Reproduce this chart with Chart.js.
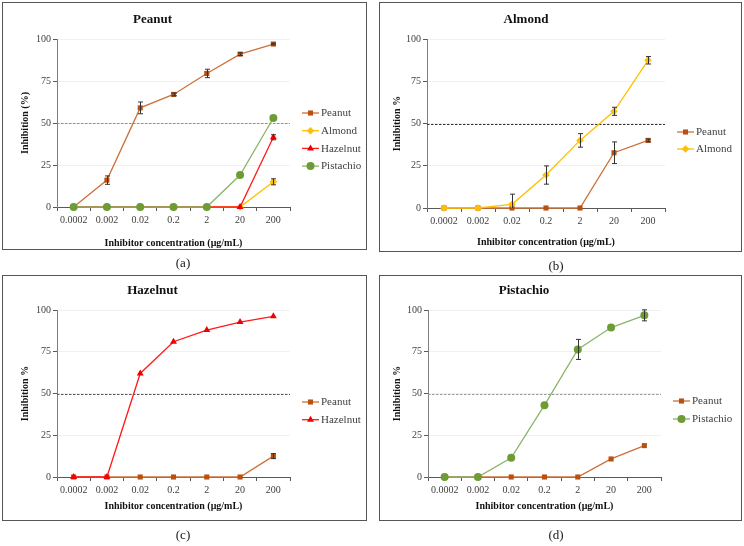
<!DOCTYPE html>
<html>
<head>
<meta charset="utf-8">
<script src="https://cdn.jsdelivr.net/npm/chart.js@4.4.0/dist/chart.umd.min.js"></script>
<style>
    body { margin: 0; background: #fff; }
    #page { position: relative; width: 744px; height: 546px; font-family: 'Liberation Serif', serif; }
    .panel { position: absolute; border: 1px solid #555; background: #fff; }
    .panel canvas { display: block; }
    .tag { position: absolute; width: 60px; text-align: center; font-size: 13px; color: #1a1a1a; will-change: transform; }
</style>
</head>
<body>
<div id="page">
    <div class="panel" style="left:2px; top:2px;"><canvas id="chartA" width="363" height="246"></canvas></div>
    <div class="panel" style="left:379px; top:2px;"><canvas id="chartB" width="361" height="248"></canvas></div>
    <div class="panel" style="left:2px; top:275px;"><canvas id="chartC" width="363" height="244"></canvas></div>
    <div class="panel" style="left:379px; top:275px;"><canvas id="chartD" width="361" height="244"></canvas></div>
    <div class="tag" style="left:153px; top:255px;">(a)</div>
    <div class="tag" style="left:526px; top:258px;">(b)</div>
    <div class="tag" style="left:153px; top:527px;">(c)</div>
    <div class="tag" style="left:526px; top:527px;">(d)</div>
</div>
<script>
// концентрации ингибитора (ось X)
const concLabels = ['0.0002', '0.002', '0.02', '0.2', '2', '20', '200'];
const yMin = 0;
const yMax = 100;
const yStep = 25;
const threshold = 50;

// (a) Peanut
const aPeanut = [0, 16, 59, 67, 79.5, 91, 97];
const aPeanutErr = [0, 2.5, 3.5, 0.8, 2.5, 0.8, 0.5];
const aAlmond = [0, 0, 0, 0, 0, 0, 15];
const aAlmondErr = [0, 0, 0, 0, 0, 0, 1.8];
const aHazelnut = [0, 0, 0, 0, 0, 0, 41.5];
const aHazelnutErr = [0, 0, 0, 0, 0, 0, 1.5];
const aPistachio = [0, 0, 0, 0, 0, 19, 53];

// (b) Almond
const bPeanut = [0, 0, 0, 0, 0, 32.7, 40];
const bPeanutErr = [0, 0, 0, 0, 0, 6.4, 0.8];
const bAlmond = [0, 0, 2.2, 19.5, 40, 57.2, 87.4];
const bAlmondErr = [0, 0, 6, 5.4, 4, 2.4, 2.2];

// (c) Hazelnut
const cPeanut = [0, 0, 0, 0, 0, 0, 12.5];
const cPeanutErr = [0, 0, 0, 0, 0, 0, 1.5];
const cHazelnut = [0, 0, 62, 81, 88, 92.8, 96.2];

// (d) Pistachio
const dPeanut = [0, 0, 0, 0, 0, 10.8, 18.8];
const dPistachio = [0, 0, 11.5, 43, 76.4, 89.5, 96.8];
const dPistachioErr = [0, 0, 0, 0, 6, 0, 3.3];

const fontFamily = "'Liberation Serif', serif";

// стиль серий
const seriesStyle = {
    Peanut: { line: '#CD7138', point: '#B9500F', shape: 'rect', r: 3.6 },
    Almond: { line: '#FFC000', point: '#FFBF00', shape: 'rectRot', r: 3.8 },
    Hazelnut: { line: '#FF1A1A', point: '#F00000', shape: 'triangle', r: 4 },
    Pistachio: { line: '#8CB469', point: '#6C9C33', shape: 'circle', r: 4 }
};

// рисуем маркер для легенды
function drawMarker(ctx, shape, x, y, r, color) {
    ctx.fillStyle = color;
    ctx.beginPath();
    if (shape === 'rect') {
        const s = r * Math.SQRT1_2;
        ctx.rect(x - s, y - s, 2 * s, 2 * s);
    } else if (shape === 'rectRot') {
        ctx.moveTo(x, y - r); ctx.lineTo(x + r, y); ctx.lineTo(x, y + r); ctx.lineTo(x - r, y);
        ctx.closePath();
    } else if (shape === 'triangle') {
        ctx.moveTo(x, y - r); ctx.lineTo(x + r * 0.87, y + r * 0.5); ctx.lineTo(x - r * 0.87, y + r * 0.5);
        ctx.closePath();
    } else {
        ctx.arc(x, y, r, 0, Math.PI * 2);
    }
    ctx.fill();
}

// пунктирная линия 50%
const refLine = {
    id: 'refLine',
    beforeDatasetsDraw(chart, args, opts) {
        const ctx = chart.ctx;
        const area = chart.chartArea;
        const y = Math.round(chart.scales.y.getPixelForValue(opts.value)) + 0.5;
        ctx.save();
        ctx.strokeStyle = opts.color;
        ctx.lineWidth = 1;
        ctx.setLineDash([2.5, 1.5]);
        ctx.beginPath();
        ctx.moveTo(area.left, y);
        ctx.lineTo(area.right, y);
        ctx.stroke();
        ctx.restore();
    }
};

// планки погрешностей
const errorBars = {
    id: 'errorBars',
    afterDatasetsDraw(chart) {
        const ctx = chart.ctx;
        const area = chart.chartArea;
        const yScale = chart.scales.y;
        ctx.save();
        ctx.beginPath();
        ctx.rect(area.left, area.top - 6, area.width, area.height + 6);
        ctx.clip();
        ctx.strokeStyle = '#333';
        ctx.lineWidth = 1;
        chart.data.datasets.forEach(function (ds, i) {
            if (!ds.errors) return;
            const meta = chart.getDatasetMeta(i);
            meta.data.forEach(function (pt, j) {
                const e = ds.errors[j];
                if (!e) return;
                const x = Math.round(pt.x) + 0.5;
                const top = yScale.getPixelForValue(ds.data[j] + e);
                const bot = yScale.getPixelForValue(ds.data[j] - e);
                ctx.beginPath();
                ctx.moveTo(x, top); ctx.lineTo(x, bot);
                ctx.moveTo(x - 2.5, top); ctx.lineTo(x + 2.5, top);
                ctx.moveTo(x - 2.5, bot); ctx.lineTo(x + 2.5, bot);
                ctx.stroke();
            });
        });
        ctx.restore();
    }
};

// легенда справа
const sideLegend = {
    id: 'sideLegend',
    afterDraw(chart, args, opts) {
        const ctx = chart.ctx;
        const area = chart.chartArea;
        ctx.save();
        chart.data.datasets.forEach(function (ds, i) {
            const st = seriesStyle[ds.label];
            const y = area.top + opts.top + i * opts.gap;
            const x0 = area.right + 12;
            ctx.strokeStyle = st.line;
            ctx.lineWidth = 1.3;
            ctx.beginPath();
            ctx.moveTo(x0, y); ctx.lineTo(x0 + 17, y);
            ctx.stroke();
            drawMarker(ctx, st.shape, x0 + 8.5, y, st.r, st.point);
            ctx.fillStyle = '#404040';
            ctx.font = '11px ' + fontFamily;
            ctx.textBaseline = 'middle';
            ctx.fillText(ds.label, x0 + 19, y + 0.5);
        });
        ctx.restore();
    }
};

// последние серии рисуются поверх
function makeDataset(name, values, errors, order) {
    const st = seriesStyle[name];
    return {
        label: name,
        data: values,
        errors: errors,
        order: order,
        clip: false,
        borderColor: st.line,
        borderWidth: 1.3,
        pointStyle: st.shape,
        pointRadius: st.r,
        pointBackgroundColor: st.point,
        pointBorderColor: st.point,
        pointBorderWidth: 0,
        tension: 0,
        fill: false
    };
}

function makeChart(id, cfg) {
    return new Chart(document.getElementById(id), {
        type: 'line',
        data: {
            labels: concLabels,
            datasets: cfg.datasets
        },
        options: {
            responsive: false,
            animation: false,
            events: [],
            layout: { padding: cfg.padding },
            plugins: {
                legend: { display: false },
                tooltip: { enabled: false },
                title: {
                    display: true,
                    text: cfg.title,
                    color: '#111',
                    font: { family: fontFamily, size: 13, weight: 'bold' },
                    padding: cfg.titlePad
                },
                refLine: { value: threshold, color: cfg.refColor },
                sideLegend: cfg.legend
            },
            scales: {
                x: {
                    offset: true,
                    grid: { offset: true, drawOnChartArea: false, drawTicks: true, tickLength: 4, color: '#595959' },
                    border: { color: '#595959', width: 1 },
                    ticks: { color: '#404040', padding: 3, maxRotation: 0, font: { family: fontFamily, size: 10 } },
                    title: {
                        display: true,
                        text: 'Inhibitor concentration (μg/mL)',
                        color: '#111',
                        font: { family: fontFamily, size: 10, weight: 'bold' },
                        padding: { top: 0, bottom: 0 }
                    },
                    afterFit: function (s) { s.height = cfg.xHeight; }
                },
                y: {
                    min: yMin,
                    max: yMax,
                    grid: { color: '#f0f0f0', tickColor: '#595959', tickLength: 4 },
                    border: { color: '#7f7f7f', width: 1 },
                    ticks: { stepSize: yStep, color: '#404040', padding: 2, font: { family: fontFamily, size: 10 } },
                    title: {
                        display: true,
                        text: cfg.yTitle,
                        color: '#111',
                        font: { family: fontFamily, size: 10, weight: 'bold' },
                        padding: { top: 4, bottom: 0 }
                    },
                    afterFit: function (s) { s.width = cfg.yWidth; }
                }
            }
        },
        plugins: [refLine, errorBars, sideLegend]
    });
}

makeChart('chartA', {
    title: 'Peanut',
    yTitle: 'Inhibition (%)',
    datasets: [
        makeDataset('Peanut', aPeanut, aPeanutErr, 4),
        makeDataset('Almond', aAlmond, aAlmondErr, 3),
        makeDataset('Hazelnut', aHazelnut, aHazelnutErr, 2),
        makeDataset('Pistachio', aPistachio, null, 1)
    ],
    padding: { left: 12, right: 76, top: 0, bottom: 0 },
    titlePad: { top: 9, bottom: 11.4 },
    yWidth: 42,
    xHeight: 42,
    refColor: '#8c8c8c',
    legend: { top: 74, gap: 17.7 }
});

makeChart('chartB', {
    title: 'Almond',
    yTitle: 'Inhibition %',
    datasets: [
        makeDataset('Peanut', bPeanut, bPeanutErr, 2),
        makeDataset('Almond', bAlmond, bAlmondErr, 1)
    ],
    padding: { left: 7, right: 76, top: 0, bottom: 3 },
    titlePad: { top: 9, bottom: 11.4 },
    yWidth: 40,
    xHeight: 40,
    refColor: '#333',
    legend: { top: 93, gap: 17 }
});

makeChart('chartC', {
    title: 'Hazelnut',
    yTitle: 'Inhibition %',
    datasets: [
        makeDataset('Peanut', cPeanut, cPeanutErr, 2),
        makeDataset('Hazelnut', cHazelnut, null, 1)
    ],
    padding: { left: 12, right: 76, top: 0, bottom: 8 },
    titlePad: { top: 7, bottom: 11.4 },
    yWidth: 42,
    xHeight: 35,
    refColor: '#555',
    legend: { top: 92, gap: 17.7 }
});

makeChart('chartD', {
    title: 'Pistachio',
    yTitle: 'Inhibition %',
    datasets: [
        makeDataset('Peanut', dPeanut, null, 2),
        makeDataset('Pistachio', dPistachio, dPistachioErr, 1)
    ],
    padding: { left: 7, right: 80, top: 0, bottom: 8 },
    titlePad: { top: 7, bottom: 11.4 },
    yWidth: 41,
    xHeight: 35,
    refColor: '#999',
    legend: { top: 91, gap: 18 }
});
</script>
</body>
</html>
